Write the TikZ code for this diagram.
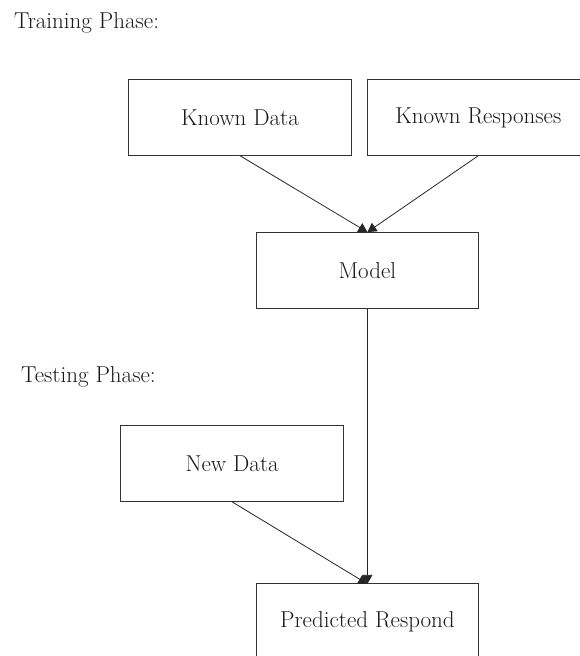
\documentclass[tikz,border=0pt]{standalone}
\usepackage{tikz}
\usetikzlibrary{arrows.meta,positioning}

\begin{document}
\begin{tikzpicture}[
    x=1pt, y=-1pt,
    font=\fontsize{23}{27}\selectfont,
    text=black!90,
    box/.style={draw=black!80, line width=0.9pt, minimum width=222.6pt, minimum height=76.4pt, inner sep=0pt, outer sep=0pt},
    phase/.style={anchor=base west, inner sep=0pt},
    arrow/.style={-{Triangle[length=9pt, width=10pt]}, line width=0.8pt, draw=black!85}
]
\useasboundingbox (0,0) rectangle (579,656);

\node[phase] (train) at (14,28) {Training Phase:};
\node[box] (kd) at (240,117.5) {Known Data};
\node[box, right=15.7pt of kd] (kr) {Known Responses};
\node[box] (model) at (367.4,270.3) {Model};

\node[phase] (test) at (21,382) {Testing Phase:};
\node[box] (new) at (232.2,463.7) {New Data};
\node[box, below=275.4pt of model] (pred) {Predicted Respond};

\draw[arrow] (kd.south) -- (model.north);
\draw[arrow] (kr.south) -- (model.north);
\draw[arrow] (model.south) -- (pred.north);
\draw[arrow] (new.south) -- (pred.north);
\end{tikzpicture}
\end{document}
